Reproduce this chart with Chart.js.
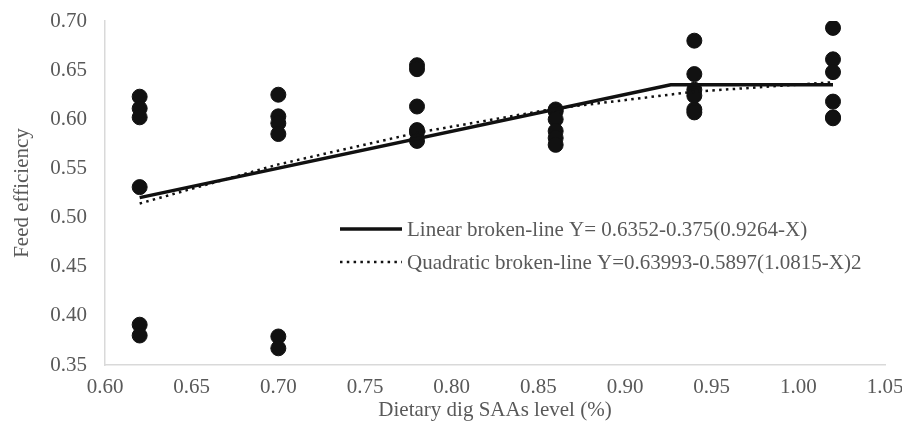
<!DOCTYPE html>
<html>
<head>
<meta charset="utf-8">
<script src="https://cdn.jsdelivr.net/npm/chart.js@4/dist/chart.umd.min.js"></script>
<style>
  html, body { margin: 0; padding: 0; background: #fff; }
  #wrap { position: relative; width: 902px; height: 435px; }
</style>
</head>
<body>
<div id="wrap"><canvas id="chart"></canvas></div>
<script>
// observed feed efficiency per dietary level (6 replicates each)
const levels = [0.62, 0.70, 0.78, 0.86, 0.94, 1.02];
const obs062 = [0.623, 0.611, 0.602, 0.531, 0.391, 0.380];
const obs070 = [0.625, 0.603, 0.596, 0.585, 0.379, 0.367];
const obs078 = [0.655, 0.651, 0.613, 0.589, 0.587, 0.578];
const obs086 = [0.610, 0.608, 0.600, 0.588, 0.581, 0.574];
const obs094 = [0.680, 0.646, 0.630, 0.624, 0.610, 0.607];
const obs102 = [0.693, 0.661, 0.648, 0.618, 0.602, 0.601];

// fitted lines
const linX = [0.62, 0.9264, 1.02];
const linY = [0.5203, 0.6352, 0.6352];
const quadY = [0.5143, 0.5541, 0.5863, 0.6110, 0.6281, 0.6377];

const linLabel = 'Linear broken-line Y= 0.6352-0.375(0.9264-X)';
const quadLabel = 'Quadratic broken-line Y=0.63993-0.5897(1.0815-X)2';

const FONT = '"Liberation Serif", "Times New Roman", serif';
const TXT = '#595959';
const SIZE = 21;
const DOTS = [2.5, 4.3];

const groups = [obs062, obs070, obs078, obs086, obs094, obs102];
const points = [];
groups.forEach(function (g, i) {
  g.forEach(function (v) { points.push({ x: levels[i], y: v }); });
});

// legend drawn inside the plot area
const innerLegend = {
  id: 'innerLegend',
  afterDraw: function (chart) {
    const ctx = chart.ctx;
    const x0 = 340, x1 = 402, tx = 407;
    const rows = [
      { y: 229, label: linLabel, dash: [], w: 3.5 },
      { y: 262, label: quadLabel, dash: DOTS, w: 2.5 }
    ];
    ctx.save();
    rows.forEach(function (r) {
      ctx.beginPath();
      ctx.setLineDash(r.dash);
      ctx.lineWidth = r.w;
      ctx.strokeStyle = '#111';
      ctx.moveTo(x0, r.y);
      ctx.lineTo(x1, r.y);
      ctx.stroke();
      ctx.setLineDash([]);
      ctx.fillStyle = TXT;
      ctx.font = SIZE + 'px ' + FONT;
      ctx.textBaseline = 'middle';
      ctx.fillText(r.label, tx, r.y + 1);
    });
    ctx.restore();
  }
};

new Chart(document.getElementById('chart'), {
  type: 'scatter',
  data: {
    datasets: [
      {
        label: 'obs',
        data: points,
        backgroundColor: '#111',
        borderColor: '#111',
        pointRadius: 7.5,
        pointHoverRadius: 7.5,
        order: 3
      },
      {
        label: linLabel,
        data: linX.map(function (x, i) { return { x: x, y: linY[i] }; }),
        showLine: true,
        borderColor: '#111',
        borderWidth: 3.5,
        pointRadius: 0,
        order: 1
      },
      {
        label: quadLabel,
        data: levels.map(function (x, i) { return { x: x, y: quadY[i] }; }),
        showLine: true,
        borderColor: '#111',
        borderWidth: 2.5,
        borderDash: DOTS,
        pointRadius: 0,
        order: 2
      }
    ]
  },
  options: {
    responsive: true,
    maintainAspectRatio: false,
    animation: false,
    layout: { padding: { top: 21, right: 17, left: 0, bottom: 0 } },
    plugins: { legend: { display: false }, tooltip: { enabled: false } },
    scales: {
      x: {
        type: 'linear',
        min: 0.6, max: 1.05,
        grid: { display: false, drawTicks: false },
        border: { color: '#d9d9d9', width: 1.5 },
        ticks: {
          stepSize: 0.05, padding: 10, color: TXT,
          font: { family: FONT, size: SIZE },
          callback: function (v) { return v.toFixed(2); }
        },
        title: {
          display: true, text: 'Dietary dig SAAs level (%)', color: TXT,
          font: { family: FONT, size: SIZE }, padding: { top: 0, bottom: 12 }
        },
        afterFit: function (s) { s.height = 70; s.paddingLeft = 0; s.paddingRight = 0; }
      },
      y: {
        min: 0.35, max: 0.70,
        grid: { display: false, drawTicks: false },
        border: { color: '#d9d9d9', width: 1.5 },
        ticks: {
          stepSize: 0.05, padding: 18, color: TXT,
          font: { family: FONT, size: SIZE },
          callback: function (v) { return v.toFixed(2); }
        },
        title: {
          display: true, text: 'Feed efficiency', color: TXT,
          font: { family: FONT, size: SIZE }, padding: { top: 10, bottom: 0 }
        },
        afterFit: function (s) { s.width = 105; s.paddingTop = 0; s.paddingBottom = 0; }
      }
    }
  },
  plugins: [innerLegend]
});
</script>
</body>
</html>
